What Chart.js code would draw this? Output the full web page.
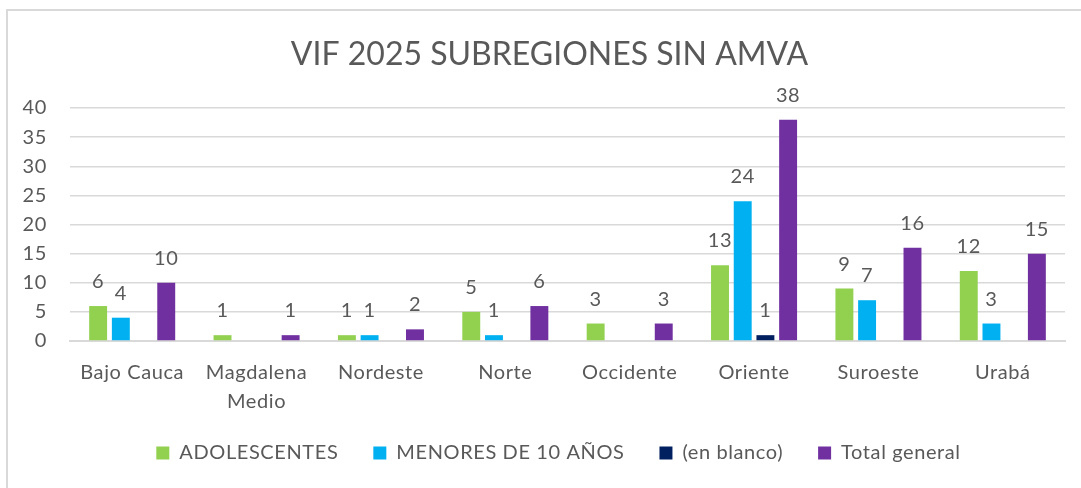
<!DOCTYPE html>
<html>
<head>
<meta charset="utf-8">
<script src="https://cdn.jsdelivr.net/npm/chart.js@4/dist/chart.umd.min.js"></script>
<style>
  html, body { margin: 0; padding: 0; background: #ffffff; }
  #wrap { position: relative; width: 1081px; height: 488px; overflow: hidden; }
  canvas { position: absolute; left: 0; top: 0; }
</style>
</head>
<body>
<div id="wrap"><canvas id="c" width="1081" height="488"></canvas></div>
<script>
const titleText = 'VIF 2025 SUBREGIONES SIN AMVA';
const categories = ['Bajo Cauca', 'Magdalena Medio', 'Nordeste', 'Norte', 'Occidente', 'Oriente', 'Suroeste', 'Urabá'];
const adolescentes = [6, 1, 1, 5, 3, 13, 9, 12];
const menores10 = [4, null, 1, 1, null, 24, 7, 3];
const enBlanco = [null, null, null, null, null, 1, null, null];
const totalGeneral = [10, 1, 2, 6, 3, 38, 16, 15];
const yTicks = [0, 5, 10, 15, 20, 25, 30, 35, 40];

const FONT = 'Lato, "Open Sans", sans-serif';
const TEXT = '#595959';
const LS = '0.6px';

const borderPlugin = {
  id: 'borderPlugin',
  beforeLayout(chart) { chart.ctx.letterSpacing = LS; },
  beforeDraw(chart) {
    const ctx = chart.ctx;
    ctx.letterSpacing = LS;
    ctx.save();
    ctx.fillStyle = '#ffffff';
    ctx.fillRect(0, 0, chart.width, chart.height);
    ctx.strokeStyle = '#d9d9d9';
    ctx.lineWidth = 2;
    ctx.strokeRect(7, 10, 1200, 600);
    ctx.restore();
  }
};

const shiftPlugin = {
  id: 'shiftPlugin',
  afterLayout(chart) {
    const t = chart.titleBlock;
    if (t) {
      t.left += 17; t.right += 17;
      if (!t._lsWrapped) {
        const d = t.draw;
        t.draw = function (...a) {
          const c = this.ctx;
          const s = c.letterSpacing;
          c.letterSpacing = '0px';
          d.apply(this, a);
          c.letterSpacing = s;
        };
        t._lsWrapped = true;
      }
    }
    const l = chart.legend;
    if (l) {
      l.left += 26; l.right += 26;
      const h = l.height;
      l.top = 408; l.bottom = 408 + h;
    }
  }
};

const labelPlugin = {
  id: 'labelPlugin',
  afterDatasetsDraw(chart) {
    const ctx = chart.ctx;
    ctx.save();
    ctx.font = '20px ' + FONT;
    ctx.fillStyle = TEXT;
    ctx.textAlign = 'center';
    ctx.textBaseline = 'alphabetic';
    chart.data.datasets.forEach((ds, di) => {
      const meta = chart.getDatasetMeta(di);
      meta.data.forEach((el, i) => {
        const v = ds.data[i];
        if (v === null || v === undefined) return;
        ctx.fillText(String(v), el.x, el.y - 18);
      });
    });
    ctx.restore();
  }
};

new Chart(document.getElementById('c'), {
  type: 'bar',
  data: {
    labels: categories,
    datasets: [
      { label: 'ADOLESCENTES', data: adolescentes, backgroundColor: '#92D050' },
      { label: 'MENORES DE 10 AÑOS', data: menores10, backgroundColor: '#00B0F0' },
      { label: '(en blanco)', data: enBlanco, backgroundColor: '#002060' },
      { label: 'Total general', data: totalGeneral, backgroundColor: '#7030A0' }
    ]
  },
  options: {
    responsive: false,
    animation: false,
    devicePixelRatio: 1,
    layout: { padding: { left: 0, right: 16, top: 0, bottom: -10 } },
    datasets: { bar: { categoryPercentage: 0.73, barPercentage: 0.79 } },
    plugins: {
      title: {
        display: true,
        text: titleText,
        color: TEXT,
        font: { family: FONT, size: 32, weight: 'normal', lineHeight: 1.2 },
        padding: { top: 35, bottom: 34.6 }
      },
      legend: {
        position: 'bottom',
        labels: {
          color: TEXT,
          font: { family: FONT, size: 20 },
          boxWidth: 13,
          boxHeight: 13,
          padding: 35
        }
      },
      tooltip: { enabled: false }
    },
    scales: {
      x: {
        grid: { display: false, drawTicks: false },
        border: { display: true, color: '#d9d9d9', width: 2 },
        ticks: {
          color: TEXT,
          font: { family: FONT, size: 20, lineHeight: 1.45 },
          padding: 17,
          maxRotation: 0,
          autoSkip: false,
          callback: function (value) {
            const l = this.getLabelForValue(value);
            return l.length > 12 ? l.split(' ') : l;
          }
        }
      },
      y: {
        min: 0,
        max: 40,
        afterBuildTicks: (s) => { s.ticks = yTicks.map(v => ({ value: v })); },
        afterFit: (s) => { s.width = 70; },
        grid: { color: '#d9d9d9', lineWidth: 1.5, drawTicks: false },
        border: { display: false },
        ticks: {
          color: TEXT,
          font: { family: FONT, size: 20 },
          padding: 23
        }
      }
    }
  },
  plugins: [borderPlugin, shiftPlugin, labelPlugin]
});
</script>
</body>
</html>
